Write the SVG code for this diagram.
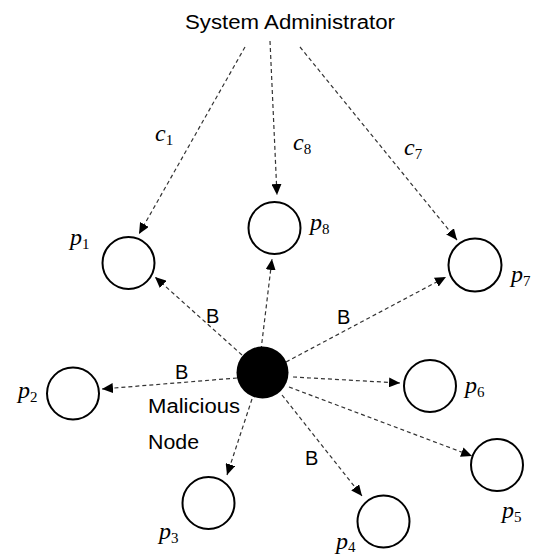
<svg xmlns="http://www.w3.org/2000/svg" width="534" height="556" viewBox="0 0 534 556">
<style>
.t{font-family:"Liberation Sans",Arial,sans-serif;font-size:20px;fill:#000}
.m{font-family:"Liberation Serif","DejaVu Serif",serif;font-style:italic;font-size:24px;fill:#000}
.s{font-style:normal;font-size:15px}
.c{fill:#fff;stroke:#000;stroke-width:2}
.e{fill:none;stroke:#333;stroke-width:1.2;stroke-dasharray:4 3;marker-end:url(#ah)}
</style>
<defs>
<marker id="ah" markerUnits="userSpaceOnUse" markerWidth="12" markerHeight="10" refX="11" refY="5" orient="auto">
<path d="M0,0 L11,5 L0,10 z" fill="#000"/>
</marker>
</defs>
<rect width="534" height="556" fill="#fff"/>
<g id="connectors">
<line class="e" x1="245" y1="47" x2="139" y2="234"/>
<line class="e" x1="270" y1="41" x2="277" y2="195"/>
<line class="e" x1="300" y1="47" x2="457" y2="240"/>
<line class="e" x1="242" y1="355" x2="155" y2="277"/>
<line class="e" x1="261" y1="350" x2="272" y2="259"/>
<line class="e" x1="286" y1="362" x2="446" y2="277"/>
<line class="e" x1="237" y1="378" x2="102" y2="389"/>
<line class="e" x1="293" y1="377" x2="400" y2="383"/>
<line class="e" x1="289" y1="387" x2="472" y2="456"/>
<line class="e" x1="282" y1="395" x2="362" y2="496"/>
<line class="e" x1="252" y1="399" x2="227" y2="475"/>
</g>
<g id="admin"><text class="t" x="290" y="29" text-anchor="middle" textLength="210" lengthAdjust="spacingAndGlyphs">System Administrator</text></g>
<g id="malicious">
<circle cx="262.5" cy="372.5" r="26" fill="#000"/>
<text class="t" x="148" y="413" textLength="92" lengthAdjust="spacingAndGlyphs">Malicious</text>
<text class="t" x="148" y="449" textLength="51" lengthAdjust="spacingAndGlyphs">Node</text>
</g>
<g id="p1"><circle class="c" cx="128.5" cy="263" r="26"/><text class="m" x="70" y="245">p<tspan class="s" dy="4">1</tspan></text></g>
<g id="p8"><circle class="c" cx="274.5" cy="228" r="26"/><text class="m" x="310" y="230">p<tspan class="s" dy="4">8</tspan></text></g>
<g id="p7"><circle class="c" cx="475" cy="265" r="26.5"/><text class="m" x="511" y="282">p<tspan class="s" dy="4">7</tspan></text></g>
<g id="p2"><circle class="c" cx="73" cy="393.5" r="26"/><text class="m" x="18" y="398">p<tspan class="s" dy="4">2</tspan></text></g>
<g id="p6"><circle class="c" cx="430" cy="386" r="26"/><text class="m" x="465" y="393">p<tspan class="s" dy="4">6</tspan></text></g>
<g id="p5"><circle class="c" cx="497" cy="465" r="26"/><text class="m" x="502" y="518">p<tspan class="s" dy="4">5</tspan></text></g>
<g id="p4"><circle class="c" cx="383.5" cy="521.5" r="26"/><text class="m" x="336" y="549">p<tspan class="s" dy="3">4</tspan></text></g>
<g id="p3"><circle class="c" cx="208.5" cy="503" r="26"/><text class="m" x="159" y="539">p<tspan class="s" dy="4">3</tspan></text></g>
<g id="labels">
<text class="m" x="155" y="141">c<tspan class="s" dy="4">1</tspan></text>
<text class="m" x="293" y="150">c<tspan class="s" dy="4">8</tspan></text>
<text class="m" x="404" y="155">c<tspan class="s" dy="4">7</tspan></text>
<text class="t" x="206" y="323">B</text>
<text class="t" x="337" y="324">B</text>
<text class="t" x="175" y="379">B</text>
<text class="t" x="305" y="465">B</text>
</g>
</svg>
